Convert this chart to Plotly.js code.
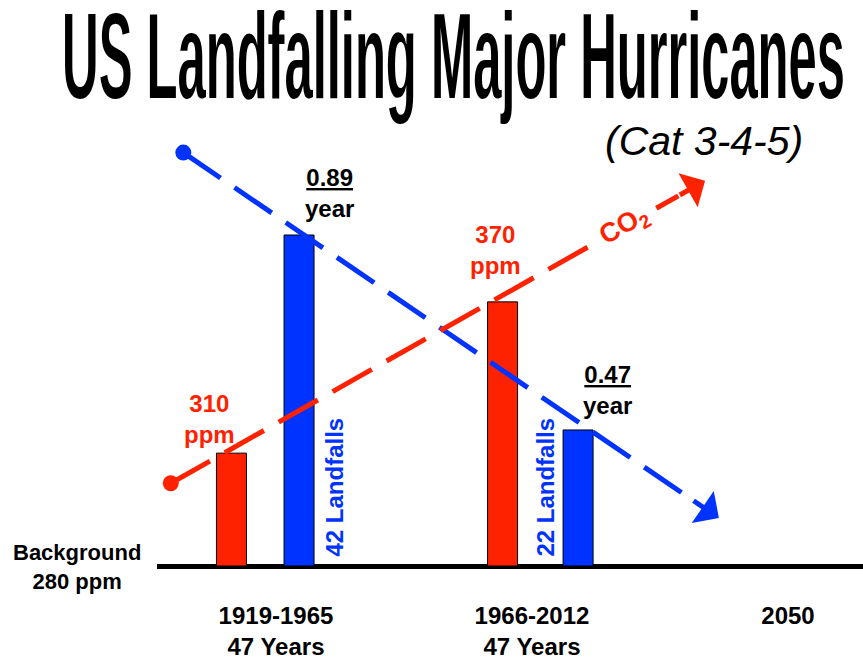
<!DOCTYPE html>
<html>
<head>
<meta charset="utf-8">
<script src="https://cdn.plot.ly/plotly-3.0.1.min.js"></script>
<style>
html, body { margin: 0; padding: 0; background: #ffffff; }
#chart { width: 863px; height: 660px; }
</style>
</head>
<body>
<div id="chart"></div>
<script>
// ---------------- data ----------------
const periodIndex   = [0, 1, 2];
const periodLabels  = ['1919-1965<br>47 Years', '1966-2012<br>47 Years', '2050'];
const barPeriods    = [0, 1];
const co2Labels     = ['310<br>ppm', '370<br>ppm'];
const co2BarHeights = [34.1, 79.8];      // schematic bar height, relative units (tallest bar = 100)
const landfallLabels = ['42 Landfalls', '22 Landfalls'];
const landfallBarHeights = [100, 41.1];  // schematic bar height, relative units
const rateLabels    = ['0.89', '0.47'];
const rateUnit      = 'year';
const baselineLabel = 'Background<br>280 ppm';
// schematic trend arrows (start, end) in period / relative-height units
const hurricaneTrendX = [-0.362, 1.730];
const hurricaneTrendY = [124.9, 14.5];
const co2TrendX = [-0.411, 1.676];
const co2TrendY = [25.0, 116.4];
const titleText    = 'US Landfalling Major Hurricanes';
const subtitleText = '(Cat 3-4-5)';
const co2Text      = 'CO<sub>2</sub>';

// ---------------- styling / layout constants ----------------
const RED  = '#FF2200';
const BLUE = '#0033FF';
const FONT = 'Liberation Sans, Arial, sans-serif';
const TITLE_FONT = 'Liberation Sans Narrow, Arial Narrow, Liberation Sans, sans-serif';
const TITLE_SIZE = 60;
const W = 863, H = 660;
const M = {l: 157, r: 0, t: 100, b: 62};
const plotH = H - M.t - M.b;
const pxPerX = 256, pxPerY = 3.31;
const x0px = 276, basePx = 566;
const xRange = [-(x0px - M.l) / pxPerX, (W - M.r - x0px) / pxPerX];
const yRange = [-(M.t + plotH - basePx) / pxPerY, (basePx - M.t) / pxPerY];
const barW = 30 / pxPerX;
const redShift  = [-0.174, -0.115];   // bar centre offsets from period position
const blueShift = [0.090, 0.180];

const redCenters  = barPeriods.map((p, i) => p + redShift[i]);
const blueCenters = barPeriods.map((p, i) => p + blueShift[i]);

function along(xs, ys, f) {
  return [xs[0] + f * (xs[1] - xs[0]), ys[0] + f * (ys[1] - ys[0])];
}
function pxAngle(xs, ys) {
  const dx = (xs[1] - xs[0]) * pxPerX, dy = (ys[1] - ys[0]) * pxPerY;
  return -Math.atan2(dy, dx) * 180 / Math.PI;
}
const tailF = 0.95;
const hurTail = along(hurricaneTrendX, hurricaneTrendY, tailF);
const co2Tail = along(co2TrendX, co2TrendY, tailF);
const co2Mid  = along(co2TrendX, co2TrendY, 0.85);

const data = [
  {
    type: 'bar', x: barPeriods, y: co2BarHeights,
    width: barW, offset: redShift.map(s => s - barW / 2),
    marker: {color: RED, line: {color: '#000000', width: 1}},
    hoverinfo: 'skip', showlegend: false
  },
  {
    type: 'bar', x: barPeriods, y: landfallBarHeights,
    width: barW, offset: blueShift.map(s => s - barW / 2),
    marker: {color: BLUE, line: {color: '#000000', width: 1}},
    hoverinfo: 'skip', showlegend: false
  },
  {
    type: 'scatter', mode: 'lines+markers',
    x: [hurricaneTrendX[0], hurTail[0]], y: [hurricaneTrendY[0], hurTail[1]],
    line: {color: BLUE, width: 5, dash: '45px,17px'},
    marker: {color: BLUE, size: [16, 0], opacity: 1, line: {width: 0}},
    hoverinfo: 'skip', showlegend: false
  },
  {
    type: 'scatter', mode: 'lines+markers',
    x: [co2TrendX[0], co2Tail[0]], y: [co2TrendY[0], co2Tail[1]],
    line: {color: RED, width: 5, dash: '45px,17px'},
    marker: {color: RED, size: [16, 0], opacity: 1, line: {width: 0}},
    hoverinfo: 'skip', showlegend: false
  }
];

const bold = (size, color) => ({family: FONT, size: size, color: color, weight: 'bold'});

const annotations = [
  // subtitle
  {text: subtitleText, xref: 'paper', yref: 'paper', x: (704 - M.l) / (W - M.l - M.r), y: (M.t + plotH - 141) / plotH,
   xanchor: 'center', yanchor: 'middle', showarrow: false,
   font: {family: FONT, size: 41, color: '#000000', style: 'italic'}},
  // rate labels above blue bars
  {text: '<u>' + rateLabels[0] + '</u><br>' + rateUnit, x: blueCenters[0], y: landfallBarHeights[0],
   xanchor: 'center', yanchor: 'bottom', xshift: 30, yshift: 11, showarrow: false, font: bold(24, '#000000')},
  {text: '<u>' + rateLabels[1] + '</u><br>' + rateUnit, x: blueCenters[1], y: landfallBarHeights[1],
   xanchor: 'center', yanchor: 'bottom', xshift: 29, yshift: 9, showarrow: false, font: bold(24, '#000000')},
  // ppm labels above red bars
  {text: co2Labels[0], x: redCenters[0], y: co2BarHeights[0],
   xanchor: 'center', yanchor: 'bottom', xshift: -22, yshift: 3, showarrow: false, font: bold(24, RED)},
  {text: co2Labels[1], x: redCenters[1], y: co2BarHeights[1],
   xanchor: 'center', yanchor: 'bottom', xshift: -7, yshift: 21, showarrow: false, font: bold(24, RED)},
  // landfall counts (vertical)
  {text: landfallLabels[0], x: blueCenters[0], y: 0, textangle: -90,
   xanchor: 'center', yanchor: 'bottom', xshift: 35, yshift: 7, showarrow: false, font: bold(24, BLUE)},
  {text: landfallLabels[1], x: blueCenters[1], y: 0, textangle: -90,
   xanchor: 'center', yanchor: 'bottom', xshift: -33, yshift: 7, showarrow: false, font: bold(24, BLUE)},
  // CO2 along the red trend
  {text: co2Text, x: co2Mid[0], y: co2Mid[1], textangle: pxAngle(co2TrendX, co2TrendY),
   xanchor: 'center', yanchor: 'middle', showarrow: false, bgcolor: '#ffffff', borderpad: 1,
   font: bold(27, RED)},
  // baseline label
  {text: baselineLabel, xref: 'paper', yref: 'y', x: (76.5 - M.l) / (W - M.l - M.r), y: 0,
   xanchor: 'center', yanchor: 'middle', yshift: -1, showarrow: false, font: bold(22, '#000000')},
  // arrow heads
  {text: '', x: hurricaneTrendX[1], y: hurricaneTrendY[1], ax: hurTail[0], ay: hurTail[1],
   axref: 'x', ayref: 'y', showarrow: true, arrowhead: 1, arrowsize: 1.3, arrowwidth: 5, arrowcolor: BLUE, standoff: 0},
  {text: '', x: co2TrendX[1], y: co2TrendY[1], ax: co2Tail[0], ay: co2Tail[1],
   axref: 'x', ayref: 'y', showarrow: true, arrowhead: 1, arrowsize: 1.3, arrowwidth: 5, arrowcolor: RED, standoff: 0}
];

const layout = {
  width: W, height: H,
  margin: M,
  paper_bgcolor: '#ffffff', plot_bgcolor: '#ffffff',
  title: {text: titleText, font: {family: TITLE_FONT, size: TITLE_SIZE, color: '#000000', weight: 'bold'},
          x: 0.5, xref: 'container', xanchor: 'center', y: 0.9, yref: 'container', yanchor: 'middle'},
  xaxis: {range: xRange, tickvals: periodIndex, ticktext: periodLabels, showgrid: false, zeroline: false,
          showline: false, ticks: '', tickfont: bold(24, '#000000'), ticklabelstandoff: 1, fixedrange: true},
  yaxis: {range: yRange, showticklabels: false, showgrid: false, zeroline: true, zerolinecolor: '#000000',
          zerolinewidth: 5, showline: false, ticks: '', fixedrange: true},
  annotations: annotations,
  bargap: 0, showlegend: false, hovermode: false
};

Plotly.newPlot('chart', data, layout, {staticPlot: true, displayModeBar: false}).then(function (gd) {
  // tall condensed title like the reference: stretch the drawn title text
  const g = gd.querySelector('.g-gtitle');
  const t = gd.querySelector('.gtitle');
  if (g && t) {
    const r = t.getBoundingClientRect();
    const S = TITLE_SIZE;
    const erodeY = 1.2;                          // screen pixels
    const baseline0 = r.top + 0.905 * S;
    const cx0 = r.left + r.width / 2;
    const sx = 783 / r.width;
    const sy = (86 + 2 * erodeY) / (0.716 * S);
    const tx = 453.5 - sx * cx0;
    const ty = (98 + erodeY) - sy * baseline0;
    g.setAttribute('transform', 'translate(' + tx + ',' + ty + ') scale(' + sx + ',' + sy + ')');
    // thinner horizontal strokes
    const svg = t.ownerSVGElement;
    const NS = 'http://www.w3.org/2000/svg';
    const defs = document.createElementNS(NS, 'defs');
    const f = document.createElementNS(NS, 'filter');
    f.setAttribute('id', 'titleWeight');
    f.setAttribute('x', '-5%'); f.setAttribute('y', '-20%');
    f.setAttribute('width', '110%'); f.setAttribute('height', '140%');
    const e = document.createElementNS(NS, 'feMorphology');
    e.setAttribute('operator', 'erode');
    e.setAttribute('radius', (0.01 / sx) + ' ' + (erodeY / sy));
    e.setAttribute('in', 'SourceGraphic');
    f.appendChild(e);
    defs.appendChild(f);
    svg.insertBefore(defs, svg.firstChild);
    t.setAttribute('filter', 'url(#titleWeight)');
  }
});
</script>
</body>
</html>
